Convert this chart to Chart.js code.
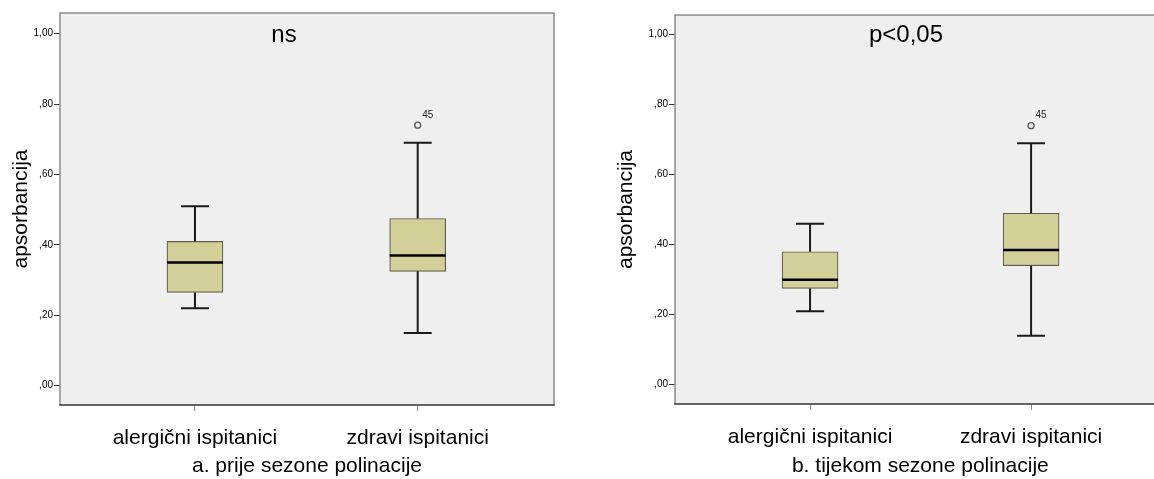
<!DOCTYPE html>
<html><head><meta charset="utf-8">
<script src="https://cdn.jsdelivr.net/npm/chart.js@4"></script>
<style>
html,body{margin:0;padding:0;background:#fff;overflow:hidden;width:1154px;height:479px;}
canvas{position:absolute;top:0;}
</style></head><body>
<canvas id="cA" width="577" height="479" style="left:0"></canvas>
<canvas id="cB" width="580" height="479" style="left:600px"></canvas>
<script>
// ---- data ----
const categories = ['alergični ispitanici', 'zdravi ispitanici'];
const categoryPos = [1, 2];
const yTickValues = [0, 0.2, 0.4, 0.6, 0.8, 1.0];
const yTickLabels = [',00', ',20', ',40', ',60', ',80', '1,00'];
const yAxisTitle = 'apsorbancija';

const aTitle = 'a. prije sezone polinacije';
const aNote = 'ns';
const aMin = [0.22, 0.15];
const aQ1 = [0.265, 0.325];
const aMedian = [0.35, 0.37];
const aQ3 = [0.41, 0.475];
const aMax = [0.51, 0.69];
const aOutliers = [[], [0.74]];
const aOutlierIds = [[], ['45']];

const bTitle = 'b. tijekom sezone polinacije';
const bNote = 'p<0,05';
const bMin = [0.21, 0.14];
const bQ1 = [0.275, 0.34];
const bMedian = [0.30, 0.385];
const bQ3 = [0.38, 0.49];
const bMax = [0.46, 0.69];
const bOutliers = [[], [0.74]];
const bOutlierIds = [[], ['45']];

const FONT = '"Liberation Sans", Arial, sans-serif';

const boxExtras = {
  id: 'boxExtras',
  beforeDraw(chart, args, o) {
    const {ctx, chartArea: a} = chart;
    ctx.save();
    ctx.fillStyle = '#efefef';
    ctx.fillRect(a.left, a.top, a.right - a.left, a.bottom - a.top);
    ctx.restore();
  },
  afterDatasetsDraw(chart, args, o) {
    const {ctx, chartArea: a} = chart;
    const xs = chart.scales.x, ys = chart.scales.y;
    ctx.save();
    const half = o.boxWidth / 2, capHalf = o.boxWidth / 4;
    categoryPos.forEach((c, i) => {
      const x = xs.getPixelForValue(c);
      const pMin = ys.getPixelForValue(o.min[i]);
      const pMax = ys.getPixelForValue(o.max[i]);
      const pQ1 = ys.getPixelForValue(o.q1[i]);
      const pQ3 = ys.getPixelForValue(o.q3[i]);
      const pMed = ys.getPixelForValue(o.median[i]);
      ctx.strokeStyle = '#1a1a1a';
      ctx.lineWidth = 2;
      ctx.beginPath();
      ctx.moveTo(x, pQ3); ctx.lineTo(x, pMax);
      ctx.moveTo(x, pQ1); ctx.lineTo(x, pMin);
      ctx.moveTo(x - capHalf, pMax); ctx.lineTo(x + capHalf, pMax);
      ctx.moveTo(x - capHalf, pMin); ctx.lineTo(x + capHalf, pMin);
      ctx.stroke();
      ctx.strokeStyle = '#000';
      ctx.lineWidth = 2.5;
      ctx.beginPath();
      ctx.moveTo(x - half, pMed); ctx.lineTo(x + half, pMed);
      ctx.stroke();
      o.outliers[i].forEach((v, j) => {
        const py = ys.getPixelForValue(v);
        ctx.beginPath();
        ctx.arc(x, py, 3, 0, Math.PI * 2);
        ctx.fillStyle = '#efefef';
        ctx.fill();
        ctx.strokeStyle = '#555';
        ctx.lineWidth = 1.3;
        ctx.stroke();
        ctx.fillStyle = '#222';
        ctx.font = '10px ' + FONT;
        ctx.textAlign = 'center';
        ctx.textBaseline = 'middle';
        ctx.fillText(o.ids[i][j], x + 10, py - 10);
      });
    });
    // note text
    ctx.fillStyle = '#000';
    ctx.font = '24px ' + FONT;
    ctx.textAlign = 'center';
    ctx.textBaseline = 'middle';
    ctx.fillText(o.note, a.left + o.noteDx, a.top + o.noteDy);
    // frame
    ctx.lineWidth = 1.5;
    ctx.strokeStyle = '#8c8c8c';
    ctx.beginPath();
    ctx.moveTo(a.left, a.bottom); ctx.lineTo(a.left, a.top);
    ctx.lineTo(a.right, a.top); ctx.lineTo(a.right, a.bottom);
    ctx.stroke();
    ctx.strokeStyle = '#333';
    ctx.beginPath();
    ctx.moveTo(a.left - 0.75, a.bottom); ctx.lineTo(a.right + 0.75, a.bottom);
    ctx.stroke();
    ctx.restore();
  }
};

function makeChart(id, cfg) {
  const data = categoryPos.map((c, i) => ({x: c, y: [cfg.q1[i], cfg.q3[i]]}));
  return new Chart(document.getElementById(id), {
    type: 'bar',
    data: {
      datasets: [{
        data: data,
        backgroundColor: '#d3cf98',
        borderColor: '#5f5e50',
        borderWidth: 1.2,
        borderSkipped: false,
        barThickness: 56
      }]
    },
    options: {
      responsive: false,
      animation: false,
      layout: {padding: cfg.padding},
      plugins: {
        legend: {display: false},
        tooltip: {enabled: false},
        boxExtras: {
          min: cfg.min, q1: cfg.q1, median: cfg.median, q3: cfg.q3, max: cfg.max,
          outliers: cfg.outliers, ids: cfg.ids, boxWidth: 56,
          note: cfg.note, noteDx: cfg.noteDx, noteDy: cfg.noteDy
        }
      },
      scales: {
        x: {
          type: 'linear',
          offset: false,
          min: cfg.xMin, max: cfg.xMax,
          afterBuildTicks: s => { s.ticks = categoryPos.map(v => ({value: v})); },
          afterFit: s => { s.height = cfg.xHeight; },
          ticks: {
            callback: v => categories[categoryPos.indexOf(v)],
            font: {family: FONT, size: 21},
            color: '#000',
            padding: 15,
            maxRotation: 0, autoSkip: false
          },
          grid: {display: true, offset: false, drawOnChartArea: false, drawTicks: true, tickLength: 6, color: '#8c8c8c'},
          border: {display: false},
          title: {display: true, text: cfg.title, font: {family: FONT, size: 21}, color: '#000', padding: {top: 0, bottom: 0}}
        },
        y: {
          min: cfg.yMin, max: cfg.yMax,
          afterBuildTicks: s => { s.ticks = yTickValues.map(v => ({value: v})); },
          afterFit: s => { s.width = cfg.yWidth; },
          ticks: {
            callback: v => yTickLabels[yTickValues.indexOf(v)],
            font: {family: FONT, size: 10},
            color: '#000',
            padding: 1
          },
          grid: {display: true, drawOnChartArea: false, drawTicks: true, tickLength: 6, color: '#333'},
          border: {display: false},
          title: {display: true, text: yAxisTitle, font: {family: FONT, size: 21}, color: '#000', padding: {top: cfg.yTitlePad, bottom: 0}}
        }
      }
    },
    plugins: [boxExtras]
  });
}

makeChart('cA', {
  min: aMin, q1: aQ1, median: aMedian, q3: aQ3, max: aMax, outliers: aOutliers, ids: aOutlierIds,
  title: aTitle, note: aNote, noteDx: 224, noteDy: 22,
  padding: {top: 13, right: 23, left: 0, bottom: 0},
  xMin: 0.394, xMax: 2.612, yMin: -0.0548, yMax: 1.0588,
  xHeight: 74, yWidth: 60, yTitlePad: 8.5
});
makeChart('cB', {
  min: bMin, q1: bQ1, median: bMedian, q3: bQ3, max: bMax, outliers: bOutliers, ids: bOutlierIds,
  title: bTitle, note: bNote, noteDx: 231, noteDy: 20,
  padding: {top: 15, right: 14.3, left: 0, bottom: 0},
  xMin: 0.389, xMax: 2.609, yMin: -0.0551, yMax: 1.0563,
  xHeight: 75, yWidth: 75, yTitlePad: 13.5
});
</script>
</body></html>
